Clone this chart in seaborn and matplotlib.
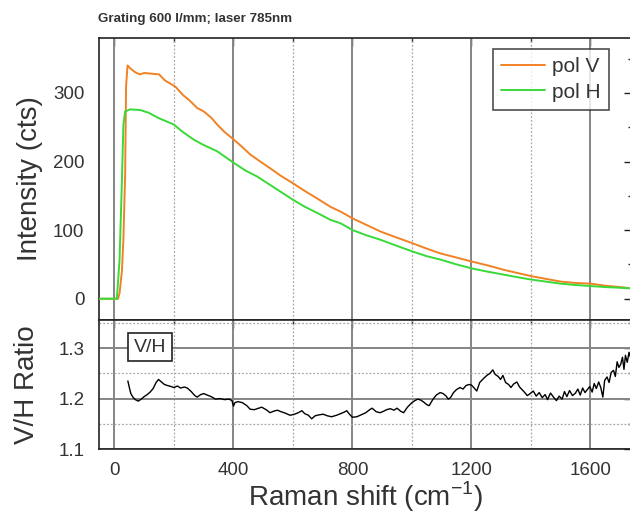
import matplotlib

matplotlib.use("Agg")
import matplotlib.pyplot as plt
import pandas as pd
import seaborn as sns
from matplotlib.ticker import MultipleLocator

# Intensity spectra (Raman shift in cm-1, intensity in counts)
shift_v = [-55, 0, 12, 17, 25, 30, 36, 39, 44, 55, 70, 85, 100, 125, 150, 170,
           190, 205, 230, 255, 278, 300, 325, 345, 370, 401, 430, 457, 490, 524,
           560, 601, 640, 682, 726, 760, 801, 850, 894, 950, 1001, 1050, 1096,
           1150, 1203, 1260, 1310, 1360, 1400, 1450, 1500, 1550, 1601, 1650,
           1700, 1740]
int_v = [0, 0, 0, 8, 40, 86, 183, 310, 340, 335, 330, 327, 329, 328, 327, 318,
         313, 309, 297, 288, 278, 273, 264, 254, 243, 232, 221, 210, 200, 190,
         179, 168, 157, 146, 134, 127, 117, 107, 98, 89, 81, 73, 66,
         60, 54, 48, 42, 37, 33, 29, 25, 23, 22, 19,
         17, 15]

shift_h = [-55, 0, 8, 17, 25, 30, 36, 53, 87, 115, 150, 199, 230, 266, 300, 345,
           401, 440, 480, 530, 601, 640, 682, 726, 760, 801, 850, 894, 950, 1001,
           1050, 1096, 1150, 1203, 1260, 1310, 1360, 1400, 1450, 1500, 1550,
           1601, 1650, 1700, 1740]
int_h = [0, 0, 0, 56, 171, 254, 273, 276, 275, 271, 263, 254, 243, 232, 224, 215,
         198, 187, 178, 164, 144, 134, 125, 115, 110, 100, 92, 86, 77, 69,
         62, 57, 50, 44, 39, 35, 31, 28, 25, 22, 20,
         18.5, 17, 16, 15]

# V/H ratio
ratio_shift = [45, 50, 55, 62, 70, 80, 90, 100, 110, 120, 130, 140, 148, 158, 168,
               178, 190, 200, 212, 222, 235, 245, 258, 270, 278, 290, 300, 312,
               325, 340, 355, 370, 385, 395, 400, 405, 415, 430, 445, 456, 470,
               485, 495, 510, 523, 535, 548, 560, 575, 590, 605, 618, 630, 640,
               652, 663, 675, 690, 702, 715, 730, 747, 760, 772, 781, 790, 800,
               815, 830, 845, 858, 866, 880, 893, 905, 915, 927, 940, 950, 962,
               972, 985, 1000, 1010, 1020, 1030, 1040, 1050, 1058, 1070, 1082,
               1095, 1105, 1115, 1122, 1130, 1140, 1150, 1162, 1172, 1182, 1192,
               1200, 1208, 1218, 1228, 1241, 1252, 1262, 1272, 1280, 1290, 1298,
               1306, 1315, 1325, 1333, 1342, 1353, 1362, 1370, 1378, 1388, 1398,
               1408, 1418, 1428, 1438, 1448, 1456, 1466, 1476, 1486, 1495, 1505,
               1513, 1521, 1530, 1540, 1550, 1558, 1566, 1574, 1582, 1590, 1598,
               1606, 1613, 1620, 1628, 1635, 1642, 1648, 1656, 1663, 1670, 1678,
               1684, 1690, 1696, 1702, 1708, 1713, 1718, 1724, 1730, 1736, 1740]
ratio_vals = [1.235, 1.222, 1.210, 1.203, 1.198, 1.195, 1.199, 1.204, 1.208,
              1.213, 1.220, 1.232, 1.238, 1.233, 1.228, 1.226, 1.224, 1.222,
              1.225, 1.221, 1.223, 1.221, 1.214, 1.206, 1.203, 1.208, 1.210,
              1.207, 1.204, 1.199, 1.200, 1.198, 1.199, 1.196, 1.185, 1.192,
              1.194, 1.192, 1.186, 1.179, 1.178, 1.181, 1.183, 1.178, 1.172,
              1.175, 1.177, 1.174, 1.171, 1.167, 1.169, 1.172, 1.176, 1.170,
              1.167, 1.160, 1.166, 1.168, 1.169, 1.166, 1.164, 1.167, 1.170,
              1.173, 1.176, 1.169, 1.163, 1.164, 1.168, 1.172, 1.178, 1.181,
              1.174, 1.172, 1.175, 1.178, 1.180, 1.177, 1.181, 1.175, 1.172,
              1.183, 1.192, 1.196, 1.199, 1.197, 1.193, 1.188, 1.186, 1.198,
              1.207, 1.212, 1.210, 1.205, 1.199, 1.202, 1.212, 1.218, 1.222,
              1.219, 1.226, 1.228, 1.227, 1.222, 1.215, 1.232, 1.240, 1.246,
              1.250, 1.257, 1.248, 1.244, 1.238, 1.246, 1.232, 1.228, 1.222,
              1.229, 1.233, 1.223, 1.218, 1.213, 1.206, 1.210, 1.215, 1.205,
              1.212, 1.202, 1.208, 1.198, 1.211, 1.203, 1.196, 1.205, 1.199,
              1.214, 1.204, 1.216, 1.206, 1.211, 1.219, 1.207, 1.221, 1.212,
              1.218, 1.224, 1.213, 1.230, 1.220, 1.233, 1.222, 1.203, 1.236,
              1.243, 1.232, 1.252, 1.256, 1.244, 1.273, 1.262, 1.268, 1.282,
              1.258, 1.286, 1.272, 1.292, 1.280, 1.296]

TEXT_COLOR = "#333333"
SPINE_COLOR = "#222222"
COLOR_V = "#F08224"
COLOR_H = "#38DA38"
LABEL_SIZE = 20
TICK_SIZE = 13.5

sns.set_style("white")
plt.rcParams["font.family"] = ["Liberation Sans", "DejaVu Sans"]
plt.rcParams["mathtext.fontset"] = "custom"
plt.rcParams["mathtext.rm"] = "Liberation Sans"

fig = plt.figure(figsize=(6.3, 5.16), dpi=100)
ax1 = fig.add_axes([99 / 630, (516 - 320) / 516, 533 / 630, 282 / 516])
ax2 = fig.add_axes([99 / 630, (516 - 449) / 516, 533 / 630, 129 / 516])

df_v = pd.DataFrame({"shift": shift_v, "intensity": int_v})
df_h = pd.DataFrame({"shift": shift_h, "intensity": int_h})
df_r = pd.DataFrame({"shift": ratio_shift, "ratio": ratio_vals})

sns.lineplot(data=df_v, x="shift", y="intensity", ax=ax1, color=COLOR_V,
             lw=1.4, label="pol V", zorder=3)
sns.lineplot(data=df_h, x="shift", y="intensity", ax=ax1, color=COLOR_H,
             lw=1.4, label="pol H", zorder=3)
sns.lineplot(data=df_r, x="shift", y="ratio", ax=ax2, color="black",
             lw=1.0, zorder=3)

for ax in (ax1, ax2):
    ax.set_xlim(-52, 1740)
    ax.xaxis.set_major_locator(MultipleLocator(400))
    ax.xaxis.set_minor_locator(MultipleLocator(200))
    ax.grid(True, which="major", axis="x", color="#858585", lw=1.4, ls="-")
    ax.grid(True, which="minor", axis="x", color="#a8a8a8", lw=0.9, ls=(0, (1.5, 1.5)))
    ax.tick_params(which="major", direction="out", length=7, width=1,
                   color=SPINE_COLOR, labelcolor=TEXT_COLOR, labelsize=TICK_SIZE,
                   pad=3.5)
    ax.tick_params(which="minor", direction="out", length=3.5, width=1,
                   color=SPINE_COLOR)
    for side in ["left", "right", "top", "bottom"]:
        ax.spines[side].set_color(SPINE_COLOR)
        ax.spines[side].set_linewidth(1.2)
    ax.set_axisbelow(True)

ax1.set_ylim(-31, 380)
ax1.yaxis.set_major_locator(MultipleLocator(100))
ax1.yaxis.set_minor_locator(MultipleLocator(50))
ax1.tick_params(axis="x", which="both", bottom=False, labelbottom=False)
ax1.set_xlabel("")
ax1.set_ylabel("Intensity (cts)", fontsize=LABEL_SIZE, color=TEXT_COLOR)
ax1.yaxis.set_label_coords(-0.105, 0.5)

ax2.set_ylim(1.1, 1.356)
ax2.yaxis.set_major_locator(MultipleLocator(0.1))
ax2.yaxis.set_minor_locator(MultipleLocator(0.05))
ax2.grid(True, which="major", axis="y", color="#858585", lw=1.4, ls="-")
ax2.grid(True, which="minor", axis="y", color="#a8a8a8", lw=0.9, ls=(0, (1.5, 1.5)))
ax2.tick_params(axis="x", which="major", length=5.5, pad=4)
ax2.tick_params(axis="x", which="minor", length=5.5)
ax2.set_xlabel("Raman shift (cm$^{\\mathregular{-1}}$)", fontsize=LABEL_SIZE,
               color=TEXT_COLOR, labelpad=0)
ax2.set_ylabel("V/H Ratio", fontsize=LABEL_SIZE, color=TEXT_COLOR)
ax2.yaxis.set_label_coords(-0.11, 0.5)

# inward ticks on the top and right sides
for ax in (ax1, ax2):
    top = ax.secondary_xaxis("top")
    top.xaxis.set_major_locator(MultipleLocator(400))
    top.xaxis.set_minor_locator(MultipleLocator(200))
    top.tick_params(which="both", direction="in", labeltop=False,
                    color=SPINE_COLOR, width=1)
    top.tick_params(which="major", length=6)
    top.tick_params(which="minor", length=3)
    top.spines["top"].set_visible(False)
    right = ax.secondary_yaxis("right")
    right.yaxis.set_major_locator(ax.yaxis.get_major_locator())
    right.yaxis.set_minor_locator(ax.yaxis.get_minor_locator())
    right.tick_params(which="both", direction="in", labelright=False,
                      color=SPINE_COLOR, width=1)
    right.tick_params(which="major", length=6)
    right.tick_params(which="minor", length=3)
    right.spines["right"].set_visible(False)

leg = ax1.legend(loc="upper left", bbox_to_anchor=((493 - 99) / 533, (320 - 49) / 282),
                 fontsize=15, frameon=True, fancybox=False, handlelength=2.1,
                 borderpad=0.4, borderaxespad=0, labelspacing=0.3,
                 handletextpad=0.35)
leg.get_frame().set_edgecolor(SPINE_COLOR)
leg.get_frame().set_linewidth(1.2)
for t in leg.get_texts():
    t.set_color(TEXT_COLOR)

ax2.text((134 - 99) / 533, 0.79, "V/H", transform=ax2.transAxes, fontsize=14,
         color=TEXT_COLOR, ha="left", va="center",
         bbox=dict(boxstyle="square,pad=0.3", fc="white", ec=SPINE_COLOR, lw=1.2))

fig.text(98 / 630, 1 - 19 / 516, "Grating 600 l/mm; laser 785nm",
         fontsize=9.6, fontweight="bold", color=TEXT_COLOR, ha="left", va="center")

fig.savefig("out.png", dpi=100)
